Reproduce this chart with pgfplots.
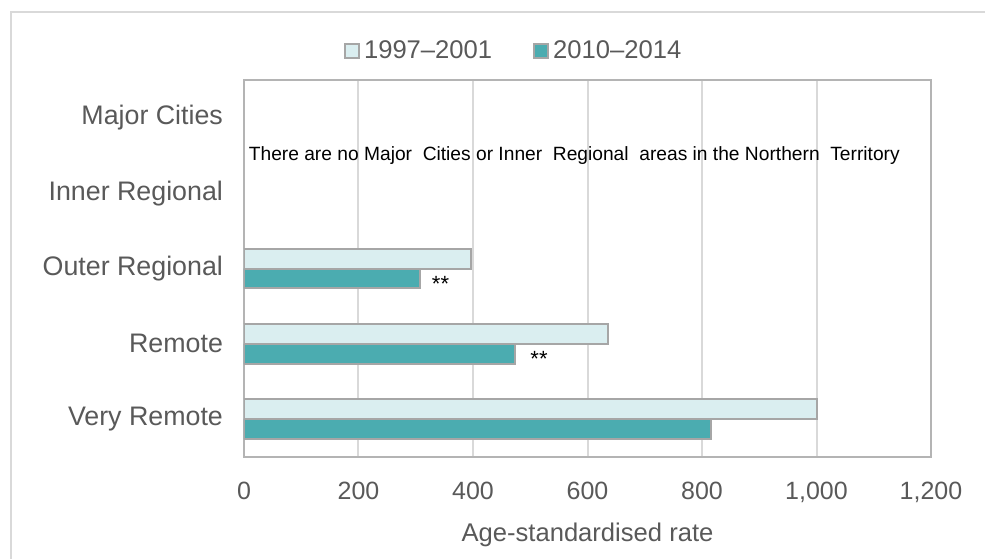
\documentclass[border=0pt]{standalone}
\usepackage{fontspec}
\setmainfont{Liberation Sans}
\usepackage{pgfplots}
\pgfplotsset{compat=1.18}
\definecolor{lightbar}{HTML}{DAEEF0}
\definecolor{darkbar}{HTML}{4BACB0}
\definecolor{barborder}{HTML}{A6A6A6}
\definecolor{gridc}{HTML}{D9D9D9}
\definecolor{axisc}{HTML}{B4B4B4}
\definecolor{txt}{HTML}{595959}
\begin{document}
\begin{tikzpicture}
\useasboundingbox (-122pt,-50.5pt) rectangle (370.5pt,228.5pt);
\draw[gridc, line width=1pt] (-116.5pt,-60pt) -- (-116.5pt,222.5pt) -- (380pt,222.5pt);
\begin{axis}[
  at={(0pt,0pt)}, anchor=south west,
  scale only axis, width=343.5pt, height=188.5pt,
  xbar,
  xmin=0, xmax=1200, ymin=-0.5, ymax=4.5,
  xtick={0,200,...,1200},
  ytick={0,1,2,3,4},
  yticklabels={Very Remote, Remote, Outer Regional, Inner Regional, Major Cities},
  xmajorgrids, major grid style={gridc, line width=1pt},
  major tick length=0pt,
  axis line style={draw=axisc, line width=1pt},
  /pgf/number format/assume math mode=true,
  /pgf/number format/1000 sep={,},
  ticklabel style={font=\fontsize{12.5}{15}\selectfont, text=txt},
  yticklabel style={xshift=-7pt, font=\fontsize{13.4}{16}\selectfont},
  xticklabel style={yshift=-9pt},
  xlabel={Age-standardised rate},
  xlabel style={at={(axis description cs:0.5,0)}, anchor=center, yshift=-39pt, font=\fontsize{12.8}{15}\selectfont, text=txt},
  bar width=0.265,
  legend style={at={(axis description cs:0.394,1.077)}, anchor=center, draw=none, fill=none,
    font=\fontsize{12.8}{15}\selectfont, text=txt, legend columns=2,
    /tikz/every even column/.append style={column sep=18.5pt}},
]
\addplot[xbar, bar shift=0.1325, fill=lightbar, draw=barborder, line width=1pt,
  legend image code/.code={\draw[fill=lightbar, draw=barborder, line width=1pt] (0pt,-3.5pt) rectangle (7pt,3.5pt);}]
  coordinates {(1000,0) (636,1) (397,2)};
\addlegendentry{1997--2001}
\addplot[xbar, bar shift=-0.1325, fill=darkbar, draw=barborder, line width=1pt,
  legend image code/.code={\draw[fill=darkbar, draw=barborder, line width=1pt] (0pt,-3.5pt) rectangle (7pt,3.5pt);}]
  coordinates {(815,0) (474,1) (307,2)};
\addlegendentry{2010--2014}
\node[anchor=west, font=\fontsize{11}{13}\selectfont, yshift=-2.5pt] at (axis cs:316,1.8675) {**};
\node[anchor=west, font=\fontsize{11}{13}\selectfont, yshift=-2.5pt] at (axis cs:488,0.8675) {**};
\node[font=\fontsize{9.6}{11}\selectfont, text=black] at (axis cs:577,3.5) {There are no Major\ \ Cities or Inner\ \ Regional\ \ areas in the Northern\ \ Territory};
\end{axis}
\end{tikzpicture}
\end{document}
